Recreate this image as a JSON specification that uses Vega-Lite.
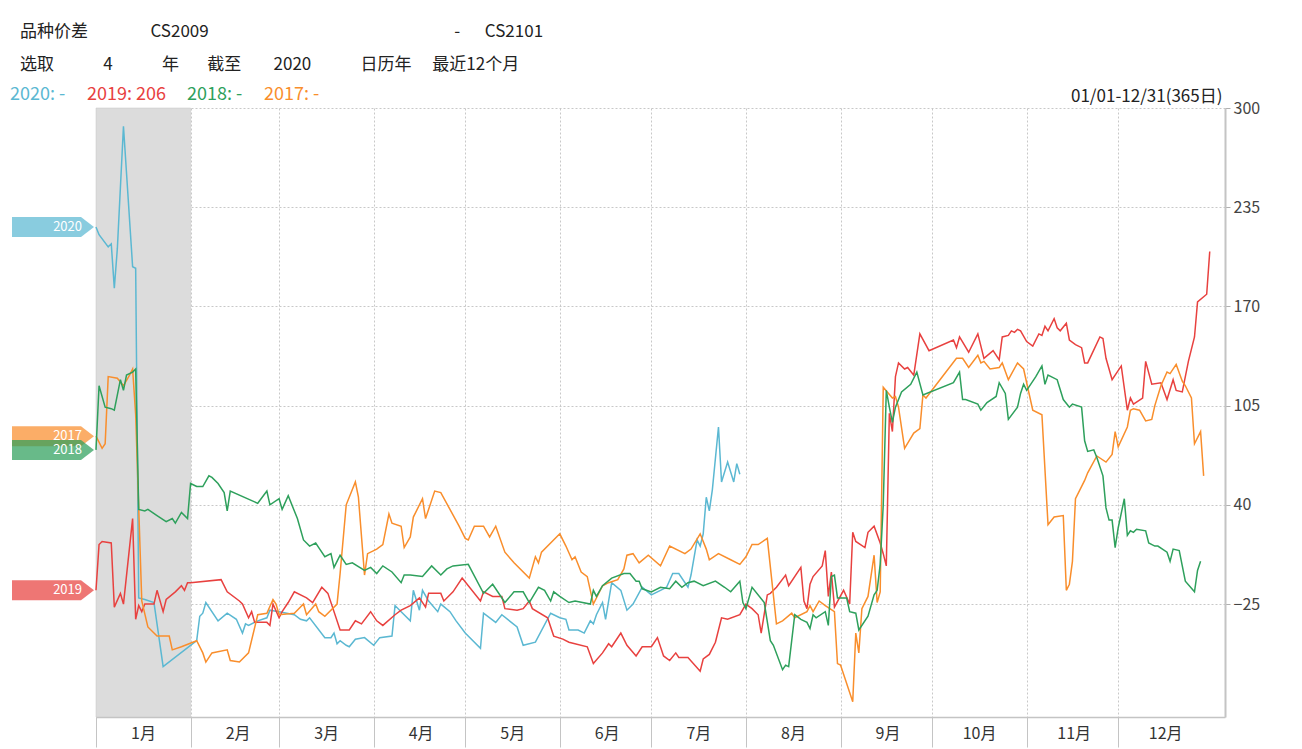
{
  "$schema": "https://vega.github.io/schema/vega-lite/v6.json",
  "width": 1129,
  "height": 609,
  "autosize": {"type": "none"},
  "padding": {"left": 96, "top": 108, "right": 77, "bottom": 32},
  "background": "white",
  "title": {
    "text": ["品种价差\u2003\u2003\u2003\u00a0\u00a0\u00a0CS2009\u2003\u2003\u2003\u2003\u2003\u2003\u2003\u2003\u2003\u2003\u2003\u2003\u2003\u2003\u00a0\u00a0-\u2003\u00a0\u00a0CS2101",
             "\u00a0\u00a0\u00a0选取\u2003\u2003\u00a0\u00a0\u00a0\u00a04\u2003\u2003\u00a0\u00a0\u00a0\u00a0年\u2003\u00a0\u00a0\u00a0截至\u2003\u00a0\u00a0\u00a0\u00a02020\u2003\u2003\u00a0\u00a0\u00a0\u00a0日历年\u2003\u00a0最近12个月"],
    "anchor": "start",
    "frame": "group",
    "dx": -76,
    "offset": 12,
    "fontSize": 17,
    "fontWeight": "normal",
    "color": "#222222",
    "lineHeight": 33
  },
  "config": {
    "font": "Noto Sans CJK SC",
    "view": {"stroke": null},
    "axis": {"labelFont": "Noto Sans CJK SC", "titleFont": "Noto Sans CJK SC"}
  },
  "datasets": {
    "shade": [{"period": "1月", "start": "2020-01-01", "end": "2020-02-01"}],
    "spread": [
      {"year":"2020","date":"2020-01-01","value":222},{"year":"2020","date":"2020-01-02","value":217},{"year":"2020","date":"2020-01-05","value":209},{"year":"2020","date":"2020-01-06","value":211},{"year":"2020","date":"2020-01-07","value":182},{"year":"2020","date":"2020-01-08","value":208},{"year":"2020","date":"2020-01-10","value":288},{"year":"2020","date":"2020-01-13","value":196},{"year":"2020","date":"2020-01-14","value":195},{"year":"2020","date":"2020-01-15","value":-21},{"year":"2020","date":"2020-01-17","value":-22},{"year":"2020","date":"2020-01-20","value":-24},{"year":"2020","date":"2020-01-23","value":-66},{"year":"2020","date":"2020-02-03","value":-49},{"year":"2020","date":"2020-02-04","value":-33},{"year":"2020","date":"2020-02-05","value":-31},{"year":"2020","date":"2020-02-06","value":-24},{"year":"2020","date":"2020-02-10","value":-36},{"year":"2020","date":"2020-02-13","value":-31},{"year":"2020","date":"2020-02-16","value":-35},{"year":"2020","date":"2020-02-18","value":-44},{"year":"2020","date":"2020-02-19","value":-38},{"year":"2020","date":"2020-02-20","value":-39},{"year":"2020","date":"2020-02-23","value":-36},{"year":"2020","date":"2020-02-26","value":-34},{"year":"2020","date":"2020-02-27","value":-29},{"year":"2020","date":"2020-03-01","value":-30},{"year":"2020","date":"2020-03-06","value":-32},{"year":"2020","date":"2020-03-08","value":-35},{"year":"2020","date":"2020-03-10","value":-36},{"year":"2020","date":"2020-03-11","value":-34},{"year":"2020","date":"2020-03-16","value":-47},{"year":"2020","date":"2020-03-18","value":-47},{"year":"2020","date":"2020-03-19","value":-44},{"year":"2020","date":"2020-03-20","value":-51},{"year":"2020","date":"2020-03-21","value":-49},{"year":"2020","date":"2020-03-23","value":-52},{"year":"2020","date":"2020-03-24","value":-53},{"year":"2020","date":"2020-03-26","value":-48},{"year":"2020","date":"2020-03-29","value":-47},{"year":"2020","date":"2020-04-01","value":-52},{"year":"2020","date":"2020-04-03","value":-47},{"year":"2020","date":"2020-04-07","value":-46},{"year":"2020","date":"2020-04-08","value":-26},{"year":"2020","date":"2020-04-10","value":-30},{"year":"2020","date":"2020-04-13","value":-36},{"year":"2020","date":"2020-04-14","value":-16},{"year":"2020","date":"2020-04-16","value":-29},{"year":"2020","date":"2020-04-17","value":-16},{"year":"2020","date":"2020-04-19","value":-23},{"year":"2020","date":"2020-04-22","value":-30},{"year":"2020","date":"2020-04-23","value":-25},{"year":"2020","date":"2020-04-26","value":-30},{"year":"2020","date":"2020-04-28","value":-36},{"year":"2020","date":"2020-05-01","value":-44},{"year":"2020","date":"2020-05-06","value":-54},{"year":"2020","date":"2020-05-07","value":-31},{"year":"2020","date":"2020-05-11","value":-37},{"year":"2020","date":"2020-05-13","value":-32},{"year":"2020","date":"2020-05-18","value":-40},{"year":"2020","date":"2020-05-20","value":-52},{"year":"2020","date":"2020-05-24","value":-50},{"year":"2020","date":"2020-05-29","value":-31},{"year":"2020","date":"2020-06-01","value":-34},{"year":"2020","date":"2020-06-03","value":-35},{"year":"2020","date":"2020-06-04","value":-42},{"year":"2020","date":"2020-06-07","value":-42},{"year":"2020","date":"2020-06-09","value":-44},{"year":"2020","date":"2020-06-11","value":-36},{"year":"2020","date":"2020-06-12","value":-38},{"year":"2020","date":"2020-06-13","value":-32},{"year":"2020","date":"2020-06-15","value":-24},{"year":"2020","date":"2020-06-16","value":-35},{"year":"2020","date":"2020-06-18","value":-11},{"year":"2020","date":"2020-06-21","value":-16},{"year":"2020","date":"2020-06-23","value":-29},{"year":"2020","date":"2020-06-25","value":-25},{"year":"2020","date":"2020-06-28","value":-14},{"year":"2020","date":"2020-07-01","value":-19},{"year":"2020","date":"2020-07-04","value":-16},{"year":"2020","date":"2020-07-06","value":-14},{"year":"2020","date":"2020-07-08","value":-5},{"year":"2020","date":"2020-07-10","value":-5},{"year":"2020","date":"2020-07-13","value":-14},{"year":"2020","date":"2020-07-14","value":-6},{"year":"2020","date":"2020-07-16","value":17},{"year":"2020","date":"2020-07-17","value":13},{"year":"2020","date":"2020-07-18","value":21},{"year":"2020","date":"2020-07-19","value":45},{"year":"2020","date":"2020-07-20","value":36},{"year":"2020","date":"2020-07-21","value":50},{"year":"2020","date":"2020-07-23","value":91},{"year":"2020","date":"2020-07-24","value":55},{"year":"2020","date":"2020-07-26","value":68},{"year":"2020","date":"2020-07-28","value":55},{"year":"2020","date":"2020-07-29","value":67},{"year":"2020","date":"2020-07-30","value":60},
      {"year":"2019","date":"2020-01-01","value":-16},{"year":"2019","date":"2020-01-02","value":14},{"year":"2019","date":"2020-01-03","value":16},{"year":"2019","date":"2020-01-06","value":15},{"year":"2019","date":"2020-01-07","value":-27},{"year":"2019","date":"2020-01-09","value":-18},{"year":"2019","date":"2020-01-10","value":-25},{"year":"2019","date":"2020-01-13","value":31},{"year":"2019","date":"2020-01-14","value":-35},{"year":"2019","date":"2020-01-15","value":-26},{"year":"2019","date":"2020-01-16","value":-30},{"year":"2019","date":"2020-01-17","value":-25},{"year":"2019","date":"2020-01-20","value":-25},{"year":"2019","date":"2020-01-21","value":-16},{"year":"2019","date":"2020-01-23","value":-30},{"year":"2019","date":"2020-01-24","value":-22},{"year":"2019","date":"2020-01-27","value":-17},{"year":"2019","date":"2020-01-29","value":-13},{"year":"2019","date":"2020-01-30","value":-16},{"year":"2019","date":"2020-01-31","value":-11},{"year":"2019","date":"2020-02-01","value":-11},{"year":"2019","date":"2020-02-11","value":-9},{"year":"2019","date":"2020-02-13","value":-17},{"year":"2019","date":"2020-02-17","value":-23},{"year":"2019","date":"2020-02-18","value":-25},{"year":"2019","date":"2020-02-20","value":-34},{"year":"2019","date":"2020-02-21","value":-30},{"year":"2019","date":"2020-02-22","value":-37},{"year":"2019","date":"2020-02-26","value":-37},{"year":"2019","date":"2020-02-27","value":-39},{"year":"2019","date":"2020-02-28","value":-25},{"year":"2019","date":"2020-03-01","value":-34},{"year":"2019","date":"2020-03-02","value":-30},{"year":"2019","date":"2020-03-04","value":-24},{"year":"2019","date":"2020-03-06","value":-17},{"year":"2019","date":"2020-03-10","value":-21},{"year":"2019","date":"2020-03-12","value":-24},{"year":"2019","date":"2020-03-15","value":-14},{"year":"2019","date":"2020-03-17","value":-18},{"year":"2019","date":"2020-03-21","value":-42},{"year":"2019","date":"2020-03-24","value":-42},{"year":"2019","date":"2020-03-26","value":-36},{"year":"2019","date":"2020-03-28","value":-38},{"year":"2019","date":"2020-03-31","value":-30},{"year":"2019","date":"2020-04-02","value":-36},{"year":"2019","date":"2020-04-04","value":-39},{"year":"2019","date":"2020-04-08","value":-32},{"year":"2019","date":"2020-04-10","value":-29},{"year":"2019","date":"2020-04-13","value":-26},{"year":"2019","date":"2020-04-16","value":-21},{"year":"2019","date":"2020-04-18","value":-27},{"year":"2019","date":"2020-04-19","value":-18},{"year":"2019","date":"2020-04-23","value":-18},{"year":"2019","date":"2020-04-24","value":-23},{"year":"2019","date":"2020-04-27","value":-17},{"year":"2019","date":"2020-04-30","value":-8},{"year":"2019","date":"2020-05-06","value":-23},{"year":"2019","date":"2020-05-07","value":-17},{"year":"2019","date":"2020-05-10","value":-20},{"year":"2019","date":"2020-05-13","value":-20},{"year":"2019","date":"2020-05-14","value":-28},{"year":"2019","date":"2020-05-18","value":-29},{"year":"2019","date":"2020-05-20","value":-28},{"year":"2019","date":"2020-05-22","value":-23},{"year":"2019","date":"2020-05-23","value":-28},{"year":"2019","date":"2020-05-28","value":-34},{"year":"2019","date":"2020-05-30","value":-46},{"year":"2019","date":"2020-06-02","value":-48},{"year":"2019","date":"2020-06-04","value":-50},{"year":"2019","date":"2020-06-10","value":-53},{"year":"2019","date":"2020-06-12","value":-64},{"year":"2019","date":"2020-06-15","value":-57},{"year":"2019","date":"2020-06-17","value":-51},{"year":"2019","date":"2020-06-18","value":-53},{"year":"2019","date":"2020-06-21","value":-44},{"year":"2019","date":"2020-06-23","value":-52},{"year":"2019","date":"2020-06-26","value":-59},{"year":"2019","date":"2020-06-28","value":-53},{"year":"2019","date":"2020-07-01","value":-53},{"year":"2019","date":"2020-07-03","value":-47},{"year":"2019","date":"2020-07-05","value":-59},{"year":"2019","date":"2020-07-07","value":-62},{"year":"2019","date":"2020-07-09","value":-57},{"year":"2019","date":"2020-07-10","value":-60},{"year":"2019","date":"2020-07-13","value":-60},{"year":"2019","date":"2020-07-17","value":-69},{"year":"2019","date":"2020-07-18","value":-61},{"year":"2019","date":"2020-07-20","value":-58},{"year":"2019","date":"2020-07-22","value":-50},{"year":"2019","date":"2020-07-24","value":-34},{"year":"2019","date":"2020-07-26","value":-35},{"year":"2019","date":"2020-07-30","value":-32},{"year":"2019","date":"2020-08-01","value":-25},{"year":"2019","date":"2020-08-03","value":-28},{"year":"2019","date":"2020-08-05","value":-32},{"year":"2019","date":"2020-08-06","value":-44},{"year":"2019","date":"2020-08-08","value":-19},{"year":"2019","date":"2020-08-09","value":-18},{"year":"2019","date":"2020-08-11","value":-14},{"year":"2019","date":"2020-08-14","value":-6},{"year":"2019","date":"2020-08-15","value":-13},{"year":"2019","date":"2020-08-19","value":-1},{"year":"2019","date":"2020-08-20","value":-23},{"year":"2019","date":"2020-08-21","value":-28},{"year":"2019","date":"2020-08-22","value":-12},{"year":"2019","date":"2020-08-23","value":-7},{"year":"2019","date":"2020-08-26","value":0},{"year":"2019","date":"2020-08-27","value":10},{"year":"2019","date":"2020-08-28","value":-20},{"year":"2019","date":"2020-08-29","value":-4},{"year":"2019","date":"2020-08-30","value":-27},{"year":"2019","date":"2020-09-02","value":-16},{"year":"2019","date":"2020-09-04","value":-25},{"year":"2019","date":"2020-09-05","value":22},{"year":"2019","date":"2020-09-06","value":16},{"year":"2019","date":"2020-09-09","value":12},{"year":"2019","date":"2020-09-10","value":22},{"year":"2019","date":"2020-09-12","value":26},{"year":"2019","date":"2020-09-14","value":15},{"year":"2019","date":"2020-09-15","value":8},{"year":"2019","date":"2020-09-16","value":0},{"year":"2019","date":"2020-09-17","value":100},{"year":"2019","date":"2020-09-18","value":88},{"year":"2019","date":"2020-09-19","value":124},{"year":"2019","date":"2020-09-20","value":133},{"year":"2019","date":"2020-09-22","value":129},{"year":"2019","date":"2020-09-23","value":130},{"year":"2019","date":"2020-09-25","value":125},{"year":"2019","date":"2020-09-27","value":152},{"year":"2019","date":"2020-09-30","value":141},{"year":"2019","date":"2020-10-08","value":148},{"year":"2019","date":"2020-10-09","value":143},{"year":"2019","date":"2020-10-10","value":150},{"year":"2019","date":"2020-10-13","value":140},{"year":"2019","date":"2020-10-16","value":152},{"year":"2019","date":"2020-10-18","value":136},{"year":"2019","date":"2020-10-21","value":141},{"year":"2019","date":"2020-10-23","value":135},{"year":"2019","date":"2020-10-24","value":150},{"year":"2019","date":"2020-10-26","value":151},{"year":"2019","date":"2020-10-27","value":154},{"year":"2019","date":"2020-10-28","value":153},{"year":"2019","date":"2020-10-29","value":155},{"year":"2019","date":"2020-10-30","value":154},{"year":"2019","date":"2020-11-01","value":147},{"year":"2019","date":"2020-11-03","value":144},{"year":"2019","date":"2020-11-05","value":152},{"year":"2019","date":"2020-11-06","value":151},{"year":"2019","date":"2020-11-07","value":157},{"year":"2019","date":"2020-11-08","value":154},{"year":"2019","date":"2020-11-10","value":162},{"year":"2019","date":"2020-11-11","value":156},{"year":"2019","date":"2020-11-12","value":154},{"year":"2019","date":"2020-11-14","value":159},{"year":"2019","date":"2020-11-15","value":148},{"year":"2019","date":"2020-11-17","value":145},{"year":"2019","date":"2020-11-19","value":143},{"year":"2019","date":"2020-11-20","value":133},{"year":"2019","date":"2020-11-21","value":133},{"year":"2019","date":"2020-11-25","value":150},{"year":"2019","date":"2020-11-26","value":149},{"year":"2019","date":"2020-11-27","value":136},{"year":"2019","date":"2020-11-29","value":122},{"year":"2019","date":"2020-12-02","value":131},{"year":"2019","date":"2020-12-04","value":102},{"year":"2019","date":"2020-12-05","value":110},{"year":"2019","date":"2020-12-06","value":106},{"year":"2019","date":"2020-12-09","value":110},{"year":"2019","date":"2020-12-10","value":134},{"year":"2019","date":"2020-12-12","value":119},{"year":"2019","date":"2020-12-15","value":120},{"year":"2019","date":"2020-12-17","value":109},{"year":"2019","date":"2020-12-19","value":122},{"year":"2019","date":"2020-12-20","value":115},{"year":"2019","date":"2020-12-22","value":114},{"year":"2019","date":"2020-12-24","value":134},{"year":"2019","date":"2020-12-26","value":150},{"year":"2019","date":"2020-12-27","value":173},{"year":"2019","date":"2020-12-30","value":178},{"year":"2019","date":"2020-12-31","value":206},
      {"year":"2017","date":"2020-01-01","value":85},{"year":"2017","date":"2020-01-03","value":77},{"year":"2017","date":"2020-01-04","value":80},{"year":"2017","date":"2020-01-05","value":124},{"year":"2017","date":"2020-01-08","value":123},{"year":"2017","date":"2020-01-10","value":118},{"year":"2017","date":"2020-01-12","value":125},{"year":"2017","date":"2020-01-13","value":129},{"year":"2017","date":"2020-01-14","value":99},{"year":"2017","date":"2020-01-16","value":-23},{"year":"2017","date":"2020-01-18","value":-40},{"year":"2017","date":"2020-01-21","value":-46},{"year":"2017","date":"2020-01-25","value":-46},{"year":"2017","date":"2020-01-26","value":-55},{"year":"2017","date":"2020-01-29","value":-53},{"year":"2017","date":"2020-02-03","value":-49},{"year":"2017","date":"2020-02-05","value":-57},{"year":"2017","date":"2020-02-06","value":-63},{"year":"2017","date":"2020-02-08","value":-57},{"year":"2017","date":"2020-02-13","value":-55},{"year":"2017","date":"2020-02-14","value":-62},{"year":"2017","date":"2020-02-17","value":-63},{"year":"2017","date":"2020-02-20","value":-57},{"year":"2017","date":"2020-02-23","value":-32},{"year":"2017","date":"2020-02-26","value":-31},{"year":"2017","date":"2020-02-28","value":-22},{"year":"2017","date":"2020-02-29","value":-25},{"year":"2017","date":"2020-03-01","value":-32},{"year":"2017","date":"2020-03-06","value":-31},{"year":"2017","date":"2020-03-09","value":-25},{"year":"2017","date":"2020-03-10","value":-32},{"year":"2017","date":"2020-03-13","value":-25},{"year":"2017","date":"2020-03-14","value":-30},{"year":"2017","date":"2020-03-16","value":-33},{"year":"2017","date":"2020-03-20","value":-25},{"year":"2017","date":"2020-03-21","value":-5},{"year":"2017","date":"2020-03-23","value":40},{"year":"2017","date":"2020-03-26","value":55},{"year":"2017","date":"2020-03-27","value":45},{"year":"2017","date":"2020-03-29","value":-6},{"year":"2017","date":"2020-03-30","value":8},{"year":"2017","date":"2020-04-02","value":11},{"year":"2017","date":"2020-04-04","value":14},{"year":"2017","date":"2020-04-06","value":34},{"year":"2017","date":"2020-04-07","value":28},{"year":"2017","date":"2020-04-10","value":26},{"year":"2017","date":"2020-04-11","value":12},{"year":"2017","date":"2020-04-13","value":19},{"year":"2017","date":"2020-04-14","value":32},{"year":"2017","date":"2020-04-17","value":44},{"year":"2017","date":"2020-04-18","value":31},{"year":"2017","date":"2020-04-21","value":49},{"year":"2017","date":"2020-04-23","value":48},{"year":"2017","date":"2020-04-26","value":37},{"year":"2017","date":"2020-04-29","value":26},{"year":"2017","date":"2020-05-01","value":18},{"year":"2017","date":"2020-05-02","value":17},{"year":"2017","date":"2020-05-04","value":26},{"year":"2017","date":"2020-05-07","value":26},{"year":"2017","date":"2020-05-09","value":19},{"year":"2017","date":"2020-05-11","value":26},{"year":"2017","date":"2020-05-14","value":9},{"year":"2017","date":"2020-05-17","value":2},{"year":"2017","date":"2020-05-22","value":-8},{"year":"2017","date":"2020-05-24","value":6},{"year":"2017","date":"2020-05-25","value":2},{"year":"2017","date":"2020-05-26","value":9},{"year":"2017","date":"2020-06-01","value":21},{"year":"2017","date":"2020-06-03","value":13},{"year":"2017","date":"2020-06-05","value":4},{"year":"2017","date":"2020-06-06","value":6},{"year":"2017","date":"2020-06-08","value":-4},{"year":"2017","date":"2020-06-10","value":-7},{"year":"2017","date":"2020-06-12","value":-25},{"year":"2017","date":"2020-06-15","value":-13},{"year":"2017","date":"2020-06-17","value":-11},{"year":"2017","date":"2020-06-20","value":-9},{"year":"2017","date":"2020-06-22","value":-2},{"year":"2017","date":"2020-06-23","value":7},{"year":"2017","date":"2020-06-25","value":8},{"year":"2017","date":"2020-06-27","value":2},{"year":"2017","date":"2020-06-30","value":7},{"year":"2017","date":"2020-07-04","value":0},{"year":"2017","date":"2020-07-07","value":13},{"year":"2017","date":"2020-07-12","value":8},{"year":"2017","date":"2020-07-14","value":11},{"year":"2017","date":"2020-07-17","value":21},{"year":"2017","date":"2020-07-19","value":11},{"year":"2017","date":"2020-07-20","value":4},{"year":"2017","date":"2020-07-23","value":8},{"year":"2017","date":"2020-07-27","value":4},{"year":"2017","date":"2020-07-30","value":1},{"year":"2017","date":"2020-08-01","value":6},{"year":"2017","date":"2020-08-03","value":14},{"year":"2017","date":"2020-08-05","value":14},{"year":"2017","date":"2020-08-08","value":18},{"year":"2017","date":"2020-08-11","value":-38},{"year":"2017","date":"2020-08-13","value":-36},{"year":"2017","date":"2020-08-16","value":-31},{"year":"2017","date":"2020-08-17","value":-34},{"year":"2017","date":"2020-08-21","value":-30},{"year":"2017","date":"2020-08-22","value":-26},{"year":"2017","date":"2020-08-23","value":-30},{"year":"2017","date":"2020-08-25","value":-23},{"year":"2017","date":"2020-08-27","value":-26},{"year":"2017","date":"2020-08-30","value":-30},{"year":"2017","date":"2020-08-31","value":-64},{"year":"2017","date":"2020-09-01","value":-65},{"year":"2017","date":"2020-09-05","value":-89},{"year":"2017","date":"2020-09-06","value":-44},{"year":"2017","date":"2020-09-07","value":-57},{"year":"2017","date":"2020-09-08","value":-28},{"year":"2017","date":"2020-09-10","value":-20},{"year":"2017","date":"2020-09-12","value":7},{"year":"2017","date":"2020-09-13","value":-24},{"year":"2017","date":"2020-09-14","value":-17},{"year":"2017","date":"2020-09-15","value":117},{"year":"2017","date":"2020-09-18","value":110},{"year":"2017","date":"2020-09-19","value":111},{"year":"2017","date":"2020-09-20","value":104},{"year":"2017","date":"2020-09-22","value":77},{"year":"2017","date":"2020-09-25","value":87},{"year":"2017","date":"2020-09-27","value":90},{"year":"2017","date":"2020-09-28","value":112},{"year":"2017","date":"2020-09-29","value":110},{"year":"2017","date":"2020-10-09","value":136},{"year":"2017","date":"2020-10-11","value":136},{"year":"2017","date":"2020-10-13","value":130},{"year":"2017","date":"2020-10-16","value":138},{"year":"2017","date":"2020-10-17","value":133},{"year":"2017","date":"2020-10-18","value":134},{"year":"2017","date":"2020-10-20","value":129},{"year":"2017","date":"2020-10-23","value":130},{"year":"2017","date":"2020-10-24","value":133},{"year":"2017","date":"2020-10-26","value":122},{"year":"2017","date":"2020-10-29","value":133},{"year":"2017","date":"2020-10-31","value":129},{"year":"2017","date":"2020-11-03","value":102},{"year":"2017","date":"2020-11-06","value":99},{"year":"2017","date":"2020-11-08","value":27},{"year":"2017","date":"2020-11-10","value":32},{"year":"2017","date":"2020-11-13","value":33},{"year":"2017","date":"2020-11-14","value":-16},{"year":"2017","date":"2020-11-15","value":-12},{"year":"2017","date":"2020-11-16","value":3},{"year":"2017","date":"2020-11-17","value":44},{"year":"2017","date":"2020-11-20","value":56},{"year":"2017","date":"2020-11-21","value":61},{"year":"2017","date":"2020-11-24","value":72},{"year":"2017","date":"2020-11-27","value":68},{"year":"2017","date":"2020-11-29","value":73},{"year":"2017","date":"2020-11-30","value":88},{"year":"2017","date":"2020-12-01","value":78},{"year":"2017","date":"2020-12-04","value":91},{"year":"2017","date":"2020-12-05","value":102},{"year":"2017","date":"2020-12-06","value":103},{"year":"2017","date":"2020-12-08","value":102},{"year":"2017","date":"2020-12-10","value":95},{"year":"2017","date":"2020-12-12","value":96},{"year":"2017","date":"2020-12-13","value":105},{"year":"2017","date":"2020-12-15","value":118},{"year":"2017","date":"2020-12-17","value":127},{"year":"2017","date":"2020-12-18","value":126},{"year":"2017","date":"2020-12-20","value":132},{"year":"2017","date":"2020-12-22","value":121},{"year":"2017","date":"2020-12-23","value":118},{"year":"2017","date":"2020-12-25","value":110},{"year":"2017","date":"2020-12-26","value":80},{"year":"2017","date":"2020-12-28","value":88},{"year":"2017","date":"2020-12-29","value":59},
      {"year":"2018","date":"2020-01-01","value":76},{"year":"2018","date":"2020-01-02","value":118},{"year":"2018","date":"2020-01-04","value":104},{"year":"2018","date":"2020-01-06","value":103},{"year":"2018","date":"2020-01-07","value":102},{"year":"2018","date":"2020-01-09","value":122},{"year":"2018","date":"2020-01-10","value":115},{"year":"2018","date":"2020-01-11","value":125},{"year":"2018","date":"2020-01-13","value":127},{"year":"2018","date":"2020-01-14","value":129},{"year":"2018","date":"2020-01-15","value":37},{"year":"2018","date":"2020-01-17","value":36},{"year":"2018","date":"2020-01-18","value":37},{"year":"2018","date":"2020-01-21","value":33},{"year":"2018","date":"2020-01-24","value":29},{"year":"2018","date":"2020-01-26","value":31},{"year":"2018","date":"2020-01-27","value":28},{"year":"2018","date":"2020-01-29","value":35},{"year":"2018","date":"2020-01-31","value":31},{"year":"2018","date":"2020-02-01","value":54},{"year":"2018","date":"2020-02-03","value":52},{"year":"2018","date":"2020-02-05","value":52},{"year":"2018","date":"2020-02-07","value":59},{"year":"2018","date":"2020-02-08","value":58},{"year":"2018","date":"2020-02-10","value":54},{"year":"2018","date":"2020-02-12","value":48},{"year":"2018","date":"2020-02-13","value":36},{"year":"2018","date":"2020-02-14","value":49},{"year":"2018","date":"2020-02-23","value":41},{"year":"2018","date":"2020-02-26","value":49},{"year":"2018","date":"2020-02-27","value":40},{"year":"2018","date":"2020-03-01","value":44},{"year":"2018","date":"2020-03-02","value":37},{"year":"2018","date":"2020-03-04","value":46},{"year":"2018","date":"2020-03-07","value":31},{"year":"2018","date":"2020-03-09","value":17},{"year":"2018","date":"2020-03-11","value":13},{"year":"2018","date":"2020-03-13","value":15},{"year":"2018","date":"2020-03-14","value":12},{"year":"2018","date":"2020-03-16","value":6},{"year":"2018","date":"2020-03-18","value":8},{"year":"2018","date":"2020-03-19","value":-1},{"year":"2018","date":"2020-03-21","value":7},{"year":"2018","date":"2020-03-23","value":1},{"year":"2018","date":"2020-03-25","value":2},{"year":"2018","date":"2020-03-29","value":-3},{"year":"2018","date":"2020-03-31","value":-1},{"year":"2018","date":"2020-04-02","value":-5},{"year":"2018","date":"2020-04-04","value":0},{"year":"2018","date":"2020-04-07","value":-4},{"year":"2018","date":"2020-04-10","value":-11},{"year":"2018","date":"2020-04-11","value":-6},{"year":"2018","date":"2020-04-13","value":-6},{"year":"2018","date":"2020-04-17","value":-7},{"year":"2018","date":"2020-04-20","value":0},{"year":"2018","date":"2020-04-23","value":-6},{"year":"2018","date":"2020-04-25","value":-2},{"year":"2018","date":"2020-04-27","value":0},{"year":"2018","date":"2020-05-02","value":1},{"year":"2018","date":"2020-05-07","value":-18},{"year":"2018","date":"2020-05-08","value":-16},{"year":"2018","date":"2020-05-10","value":-12},{"year":"2018","date":"2020-05-14","value":-24},{"year":"2018","date":"2020-05-17","value":-17},{"year":"2018","date":"2020-05-20","value":-17},{"year":"2018","date":"2020-05-22","value":-24},{"year":"2018","date":"2020-05-25","value":-14},{"year":"2018","date":"2020-05-27","value":-16},{"year":"2018","date":"2020-05-29","value":-23},{"year":"2018","date":"2020-05-30","value":-17},{"year":"2018","date":"2020-06-01","value":-20},{"year":"2018","date":"2020-06-04","value":-24},{"year":"2018","date":"2020-06-06","value":-23},{"year":"2018","date":"2020-06-11","value":-25},{"year":"2018","date":"2020-06-12","value":-16},{"year":"2018","date":"2020-06-13","value":-20},{"year":"2018","date":"2020-06-15","value":-13},{"year":"2018","date":"2020-06-18","value":-8},{"year":"2018","date":"2020-06-22","value":-5},{"year":"2018","date":"2020-06-24","value":-5},{"year":"2018","date":"2020-06-26","value":-10},{"year":"2018","date":"2020-06-27","value":-10},{"year":"2018","date":"2020-06-28","value":-15},{"year":"2018","date":"2020-07-01","value":-17},{"year":"2018","date":"2020-07-04","value":-14},{"year":"2018","date":"2020-07-07","value":-15},{"year":"2018","date":"2020-07-09","value":-10},{"year":"2018","date":"2020-07-11","value":-14},{"year":"2018","date":"2020-07-13","value":-11},{"year":"2018","date":"2020-07-15","value":-10},{"year":"2018","date":"2020-07-18","value":-13},{"year":"2018","date":"2020-07-22","value":-10},{"year":"2018","date":"2020-07-25","value":-14},{"year":"2018","date":"2020-07-27","value":-17},{"year":"2018","date":"2020-07-30","value":-10},{"year":"2018","date":"2020-07-31","value":-24},{"year":"2018","date":"2020-08-01","value":-28},{"year":"2018","date":"2020-08-03","value":-14},{"year":"2018","date":"2020-08-07","value":-24},{"year":"2018","date":"2020-08-09","value":-49},{"year":"2018","date":"2020-08-10","value":-52},{"year":"2018","date":"2020-08-13","value":-68},{"year":"2018","date":"2020-08-14","value":-65},{"year":"2018","date":"2020-08-15","value":-66},{"year":"2018","date":"2020-08-17","value":-32},{"year":"2018","date":"2020-08-19","value":-35},{"year":"2018","date":"2020-08-21","value":-37},{"year":"2018","date":"2020-08-22","value":-41},{"year":"2018","date":"2020-08-23","value":-32},{"year":"2018","date":"2020-08-24","value":-34},{"year":"2018","date":"2020-08-27","value":-30},{"year":"2018","date":"2020-08-28","value":-39},{"year":"2018","date":"2020-08-29","value":-7},{"year":"2018","date":"2020-08-30","value":-6},{"year":"2018","date":"2020-08-31","value":-21},{"year":"2018","date":"2020-09-03","value":-21},{"year":"2018","date":"2020-09-04","value":-30},{"year":"2018","date":"2020-09-06","value":-31},{"year":"2018","date":"2020-09-07","value":-42},{"year":"2018","date":"2020-09-10","value":-33},{"year":"2018","date":"2020-09-12","value":-19},{"year":"2018","date":"2020-09-13","value":-16},{"year":"2018","date":"2020-09-14","value":1},{"year":"2018","date":"2020-09-15","value":40},{"year":"2018","date":"2020-09-16","value":115},{"year":"2018","date":"2020-09-17","value":104},{"year":"2018","date":"2020-09-18","value":94},{"year":"2018","date":"2020-09-19","value":104},{"year":"2018","date":"2020-09-21","value":114},{"year":"2018","date":"2020-09-24","value":119},{"year":"2018","date":"2020-09-26","value":127},{"year":"2018","date":"2020-09-28","value":112},{"year":"2018","date":"2020-10-08","value":120},{"year":"2018","date":"2020-10-10","value":127},{"year":"2018","date":"2020-10-11","value":109},{"year":"2018","date":"2020-10-12","value":109},{"year":"2018","date":"2020-10-16","value":106},{"year":"2018","date":"2020-10-17","value":102},{"year":"2018","date":"2020-10-19","value":107},{"year":"2018","date":"2020-10-22","value":111},{"year":"2018","date":"2020-10-23","value":120},{"year":"2018","date":"2020-10-25","value":113},{"year":"2018","date":"2020-10-26","value":96},{"year":"2018","date":"2020-10-29","value":104},{"year":"2018","date":"2020-10-30","value":113},{"year":"2018","date":"2020-10-31","value":119},{"year":"2018","date":"2020-11-01","value":115},{"year":"2018","date":"2020-11-04","value":124},{"year":"2018","date":"2020-11-06","value":131},{"year":"2018","date":"2020-11-07","value":119},{"year":"2018","date":"2020-11-08","value":125},{"year":"2018","date":"2020-11-11","value":122},{"year":"2018","date":"2020-11-13","value":109},{"year":"2018","date":"2020-11-15","value":104},{"year":"2018","date":"2020-11-16","value":106},{"year":"2018","date":"2020-11-19","value":104},{"year":"2018","date":"2020-11-20","value":82},{"year":"2018","date":"2020-11-21","value":75},{"year":"2018","date":"2020-11-23","value":76},{"year":"2018","date":"2020-11-24","value":71},{"year":"2018","date":"2020-11-26","value":59},{"year":"2018","date":"2020-11-27","value":38},{"year":"2018","date":"2020-11-28","value":30},{"year":"2018","date":"2020-11-29","value":30},{"year":"2018","date":"2020-11-30","value":12},{"year":"2018","date":"2020-12-01","value":25},{"year":"2018","date":"2020-12-03","value":44},{"year":"2018","date":"2020-12-04","value":20},{"year":"2018","date":"2020-12-05","value":23},{"year":"2018","date":"2020-12-06","value":22},{"year":"2018","date":"2020-12-07","value":24},{"year":"2018","date":"2020-12-10","value":23},{"year":"2018","date":"2020-12-11","value":15},{"year":"2018","date":"2020-12-13","value":13},{"year":"2018","date":"2020-12-14","value":13},{"year":"2018","date":"2020-12-17","value":9},{"year":"2018","date":"2020-12-18","value":3},{"year":"2018","date":"2020-12-19","value":11},{"year":"2018","date":"2020-12-21","value":10},{"year":"2018","date":"2020-12-23","value":-10},{"year":"2018","date":"2020-12-26","value":-17},{"year":"2018","date":"2020-12-27","value":-3},{"year":"2018","date":"2020-12-28","value":3}
    ]
  },
  "layer": [
    {
      "data": {"name": "shade"},
      "mark": {"type": "rect", "fill": "#dcdcdc", "stroke": "#c4c4c4", "strokeWidth": 0.5},
      "encoding": {
        "x": {"field": "start", "type": "temporal", "scale": {"type": "utc", "domain": [{"year": 2020, "month": 1, "date": 1, "utc": true}, {"year": 2021, "month": 1, "date": 5, "utc": true}]}},
        "x2": {"field": "end"}
      }
    },
    {
      "data": {"name": "spread"},
      "mark": {"type": "line", "strokeWidth": 1.5},
      "encoding": {
        "x": {
          "field": "date",
          "type": "temporal",
          "scale": {"type": "utc", "domain": [{"year": 2020, "month": 1, "date": 1, "utc": true}, {"year": 2021, "month": 1, "date": 5, "utc": true}]},
          "axis": {
            "title": null,
            "values": [
              {"year": 2020, "month": 1, "date": 1, "utc": true},
              {"year": 2020, "month": 2, "date": 1, "utc": true},
              {"year": 2020, "month": 3, "date": 1, "utc": true},
              {"year": 2020, "month": 4, "date": 1, "utc": true},
              {"year": 2020, "month": 5, "date": 1, "utc": true},
              {"year": 2020, "month": 6, "date": 1, "utc": true},
              {"year": 2020, "month": 7, "date": 1, "utc": true},
              {"year": 2020, "month": 8, "date": 1, "utc": true},
              {"year": 2020, "month": 9, "date": 1, "utc": true},
              {"year": 2020, "month": 10, "date": 1, "utc": true},
              {"year": 2020, "month": 11, "date": 1, "utc": true},
              {"year": 2020, "month": 12, "date": 1, "utc": true}
            ],
            "labelExpr": "utcFormat(datum.value, '%-m') + '月'",
            "labelOffset": 47,
            "labelFlush": false,
            "labelOverlap": false,
            "labelPadding": -22,
            "labelBaseline": "top",
            "labelFontSize": 16,
            "labelColor": "#333333",
            "tickSize": 30,
            "tickColor": "#c4c4c4",
            "domainColor": "#c4c4c4",
            "domainWidth": 1.5,
            "grid": true,
            "gridColor": "#c8c8c8",
            "gridDash": [2, 2]
          }
        },
        "y": {
          "field": "value",
          "type": "quantitative",
          "scale": {"domain": [-99, 300], "nice": false, "zero": false},
          "axis": {
            "orient": "right",
            "values": [-25, 40, 105, 170, 235, 300],
            "title": "01/01-12/31(365日)",
            "titleAngle": 0,
            "titleAlign": "right",
            "titleBaseline": "alphabetic",
            "titleX": -3,
            "titleY": -7,
            "titleFontSize": 17,
            "titleFontWeight": "normal",
            "titleColor": "#222222",
            "labelFontSize": 16,
            "labelColor": "#444444",
            "labelPadding": 3,
            "tickSize": 5,
            "tickColor": "#b0b0b0",
            "domainColor": "#c4c4c4",
            "domainWidth": 2,
            "grid": true,
            "gridColor": "#c8c8c8",
            "gridDash": [2, 2]
          }
        },
        "color": {
          "field": "year",
          "type": "nominal",
          "scale": {"domain": ["2020", "2019", "2018", "2017"], "range": ["#5bb8d2", "#e8413f", "#2ea05c", "#f98e2c"]},
          "legend": {
            "orient": "none",
            "legendX": -104,
            "legendY": -22,
            "direction": "horizontal",
            "title": null,
            "symbolSize": 0,
            "symbolOpacity": 0,
            "symbolStrokeWidth": 0,
            "labelOffset": 0,
            "columnPadding": 3,
            "labelFontSize": 18,
            "labelFont": "Noto Sans CJK SC",
            "labelExpr": "datum.label + ': ' + (datum.label == '2019' ? '206' : '-')",
            "encode": {"labels": {"update": {"fill": {"signal": "scale('color', datum.value)"}}}}
          }
        }
      }
    },
    {
      "data": {"name": "spread"},
      "transform": [{"filter": "utcmonth(datum.date) == 0 && utcdate(datum.date) == 1"}],
      "mark": {"type": "point", "shape": "M -8.4 -1 L -1.5 -1 L -0.2 0 L -1.5 1 L -8.4 1 Z", "size": 400, "filled": true, "opacity": 0.72, "strokeWidth": 0},
      "encoding": {
        "x": {"field": "date", "type": "temporal"},
        "y": {"field": "value", "type": "quantitative"},
        "color": {"field": "year", "type": "nominal"}
      }
    },
    {
      "data": {"name": "spread"},
      "transform": [{"filter": "utcmonth(datum.date) == 0 && utcdate(datum.date) == 1"}],
      "mark": {"type": "text", "align": "right", "baseline": "middle", "dx": -14, "fontSize": 13, "color": "#ffffff"},
      "encoding": {
        "x": {"field": "date", "type": "temporal"},
        "y": {"field": "value", "type": "quantitative"},
        "text": {"field": "year"}
      }
    }
  ]
}
